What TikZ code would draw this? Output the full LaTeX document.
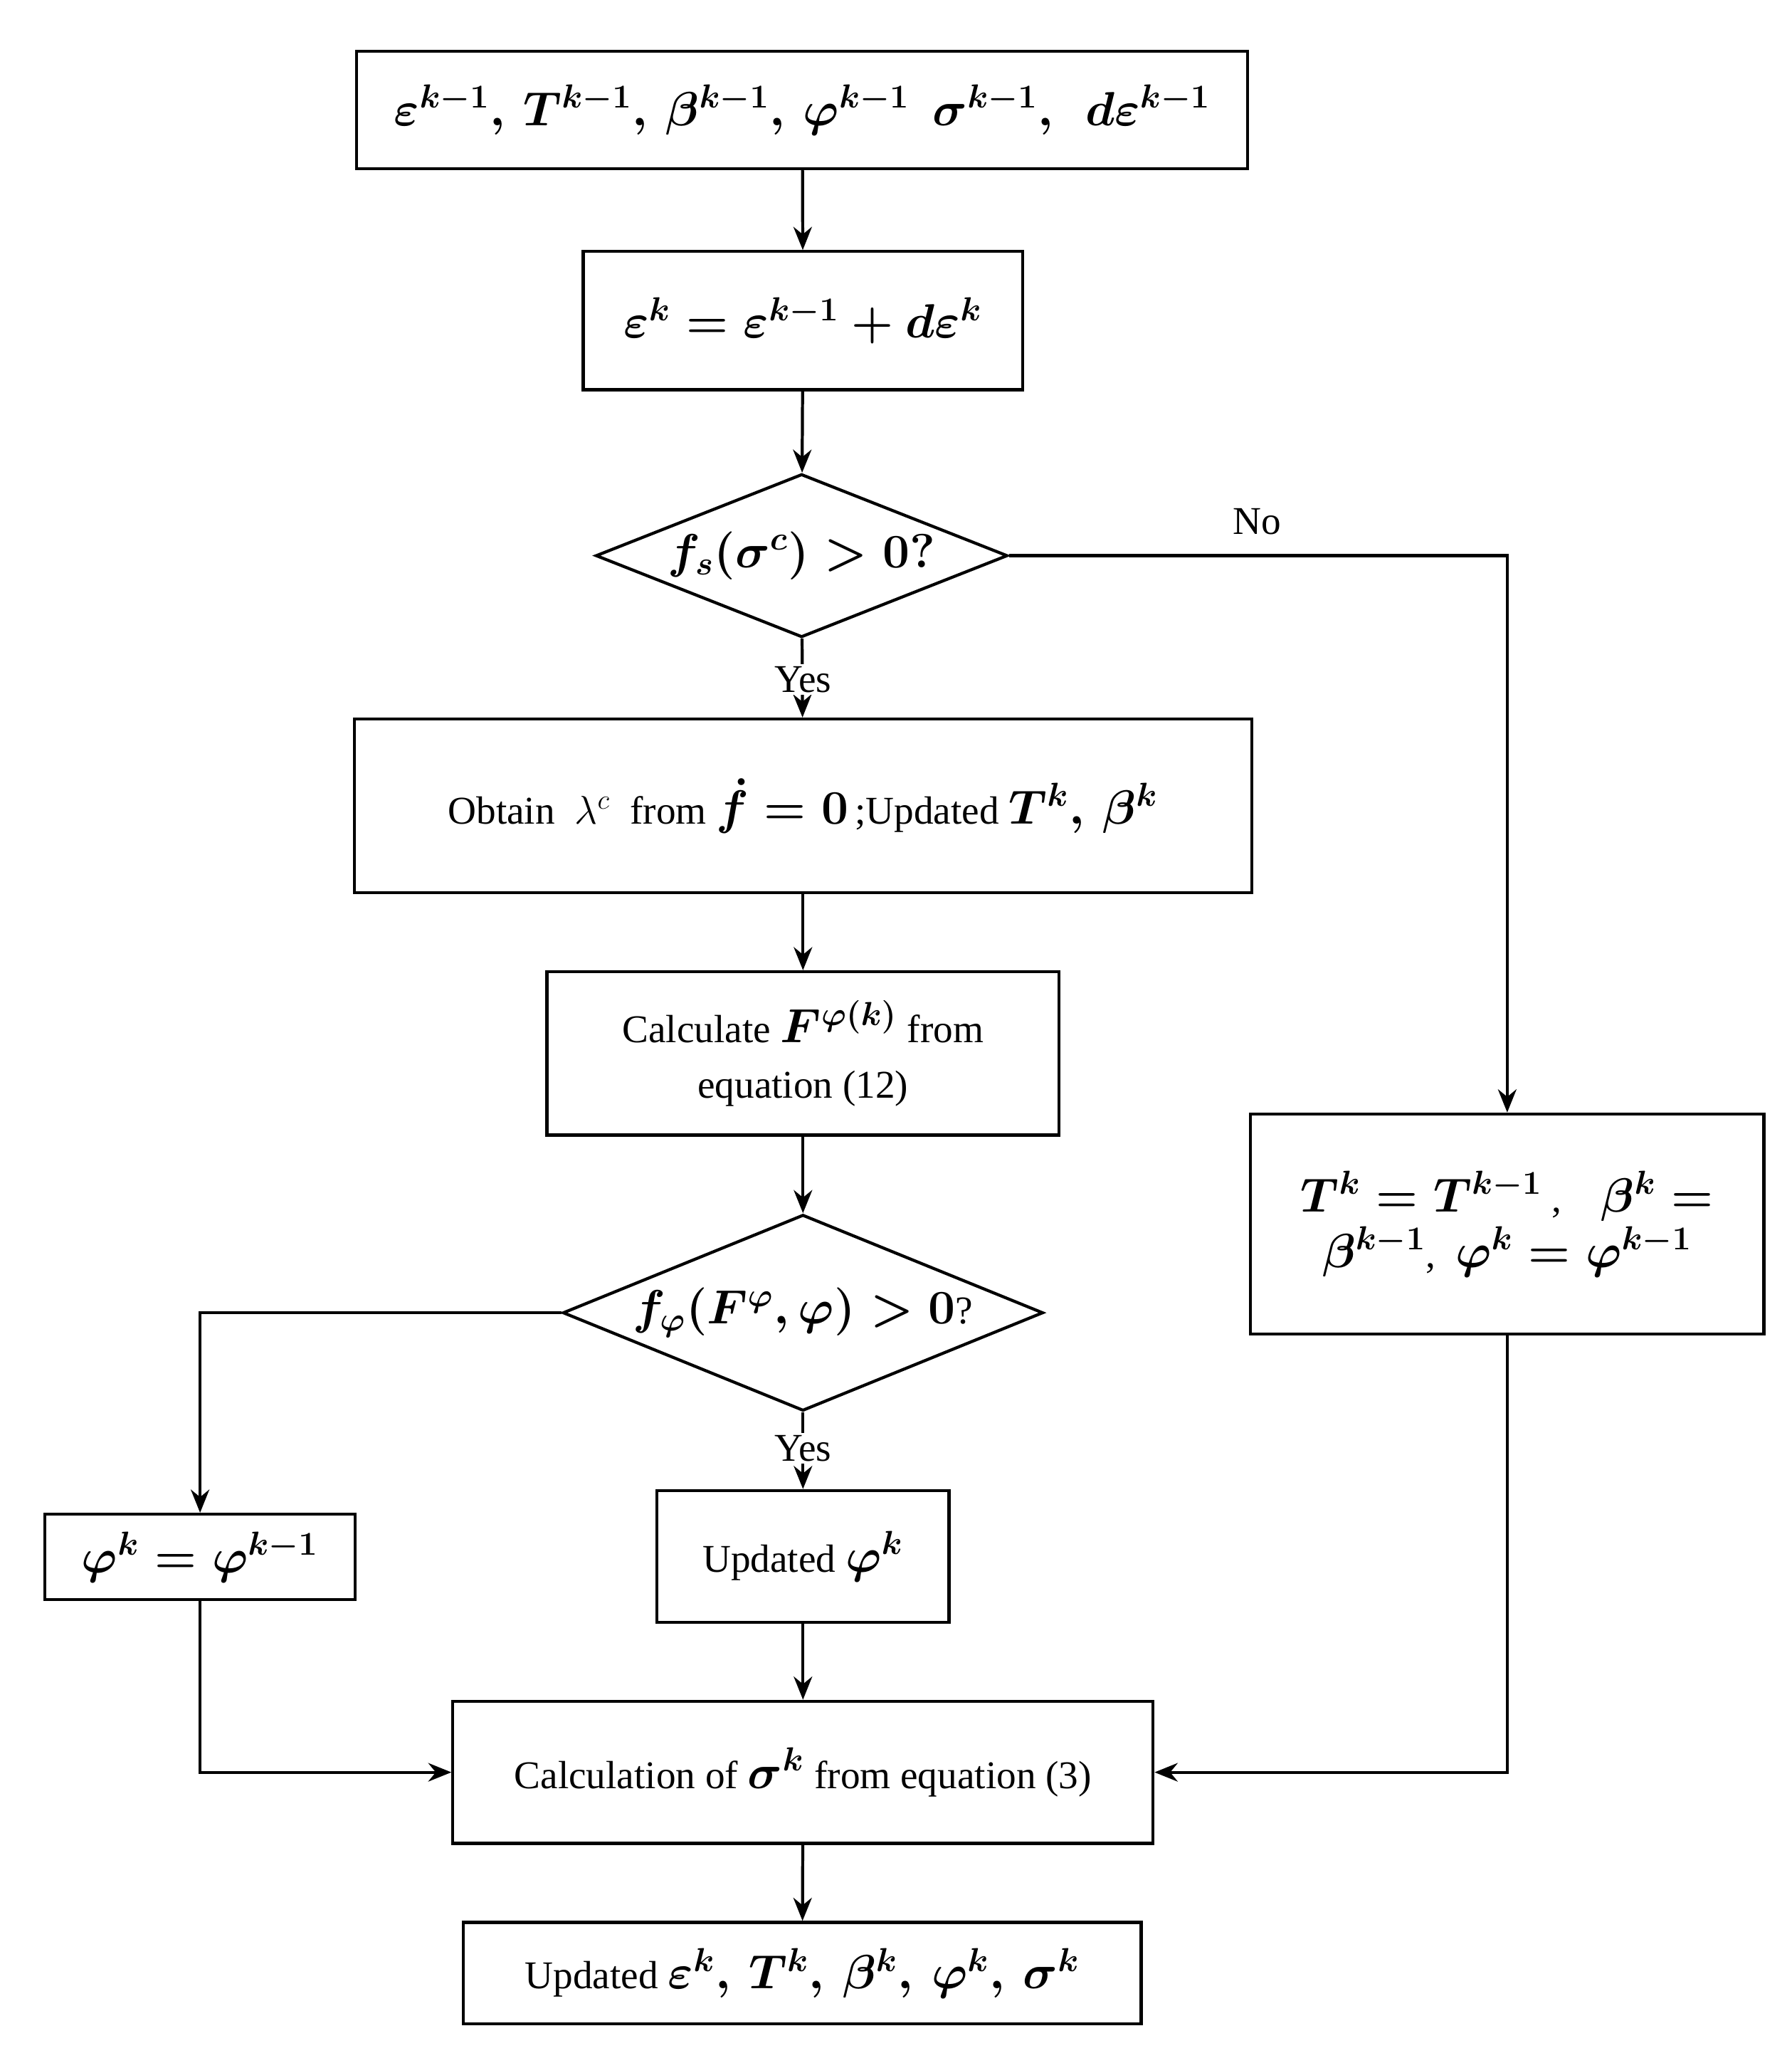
\documentclass[tikz,border=0pt]{standalone}
\usepackage{amsmath,amssymb,bm}
\usepackage{fontspec}
\setmainfont{Liberation Serif}
\usetikzlibrary{shapes.geometric,arrows.meta}
\newcommand{\mym}[1]{{\fontsize{20}{24}\selectfont\boldmath$#1$}}
\begin{document}
\begin{tikzpicture}[x=0.02cm,y=-0.02cm,
  every node/.style={font=\fontsize{17}{24}\selectfont},
  box/.style={draw,line width=1.3pt,inner sep=2pt,align=center},
  dia/.style={draw,line width=1.3pt,diamond,inner sep=0pt},
  lab/.style={inner sep=1pt},
  arr/.style={line width=1.3pt,-{Stealth[length=10pt,width=8pt]}}]
\useasboundingbox (0,0) rectangle (1361,1563);
\node[box,minimum width=13.54cm,minimum height=1.78cm] (a) at (609.5,83.5)
 {\mym{\varepsilon^{k-1},\,\bm{T}^{k-1},\,\beta^{k-1},\,\varphi^{k-1}\ \ \bm{\sigma}^{k-1},\ \ d\bm{\varepsilon}^{k-1}}};
\node[box,minimum width=6.68cm,minimum height=2.1cm] (b) at (610,243.5)
 {\mym{\bm{\varepsilon}^{k}=\bm{\varepsilon}^{k-1}+d\bm{\varepsilon}^{k}}};
\node[dia,aspect=2.52,minimum width=6.26cm,minimum height=2.48cm] (d1) at (609,422)
 {\mym{f_s(\bm{\sigma}^{c})>\mathbf{0?}}};
\node[box,minimum width=13.64cm,minimum height=2.64cm] (c) at (610,612)
 {Obtain\ \ $\lambda^{c}$\ \ from\ \mym{\dot{f}=\mathbf{0}}\,;Updated \mym{\bm{T}^{k},\,\beta^{k}}};
\node[box,minimum width=7.78cm,minimum height=2.48cm] (e) at (610,800)
 {Calculate \mym{\bm{F}^{\varphi(k)}} from\\ equation (12)};
\node[dia,aspect=2.45,minimum width=7.3cm,minimum height=2.98cm] (d2) at (610,997)
 {\mym{f_{\varphi}(F^{\varphi},\varphi)>\mathbf{0}}?};
\node[box,minimum width=7.8cm,minimum height=3.34cm] (r) at (1145,929.5)
 {\mym{\bm{T}^{k}=\bm{T}^{k-1}}\ ,\quad \mym{\beta^{k}=}\\ \mym{\beta^{k-1}},\ \ \mym{\varphi^{k}=\varphi^{k-1}}};
\node[box,minimum width=4.72cm,minimum height=1.3cm] (l) at (152,1182.5)
 {\mym{\varphi^{k}=\varphi^{k-1}}};
\node[box,minimum width=4.44cm,minimum height=2cm] (u) at (610,1182)
 {Updated \mym{\varphi^{k}}};
\node[box,minimum width=10.64cm,minimum height=2.16cm] (g) at (610,1346)
 {Calculation of \mym{\bm{\sigma}^{k}} from equation (3)};
\node[box,minimum width=10.3cm,minimum height=1.54cm] (h) at (609.5,1498.5)
 {Updated \mym{\bm{\varepsilon}^{k},\,\bm{T}^{k},\,\beta^{k},\,\varphi^{k},\,\bm{\sigma}^{k}}};
\coordinate (c1) at (1145,422);
\coordinate (c2) at (152,997);
\coordinate (c3) at (152,1346);
\coordinate (c4) at (1145,1346);
\draw[arr] (a) -- (b);
\draw[arr] (b) -- (d1);
\draw[arr] (d1) -- (c);
\node[lab,fill=white] (y1) at (610,516) {Yes};
\draw[arr] (d1.east) -- (c1) -- (r.north);
\node[lab] (no) at (955,396) {No};
\draw[arr] (c) -- (e);
\draw[arr] (e) -- (d2);
\draw[arr] (d2.west) -- (c2) -- (l.north);
\draw[arr] (d2) -- (u);
\node[lab,fill=white] (y2) at (610,1100) {Yes};
\draw[arr] (u) -- (g);
\draw[arr] (l.south) -- (c3) -- (g.west);
\draw[arr] (r.south) -- (c4) -- (g.east);
\draw[arr] (g) -- (h);
\end{tikzpicture}
\end{document}
